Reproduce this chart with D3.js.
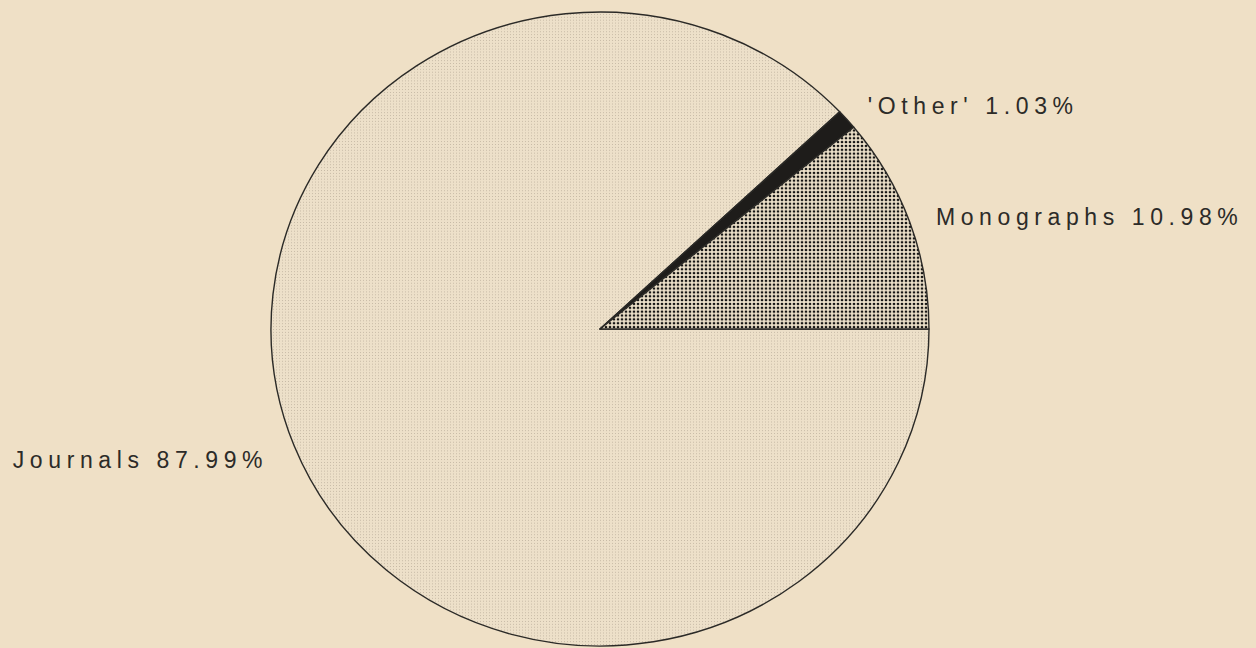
<!DOCTYPE html>
<html>
<head>
<meta charset="utf-8">
<script src="https://cdn.jsdelivr.net/npm/d3@7"></script>
<style>
  html, body { margin: 0; padding: 0; background: #efe0c6; }
  svg { display: block; }
</style>
</head>
<body>
<svg id="chart" width="1256" height="648"></svg>
<script>
// data
const categories = ['Journals', "'Other'", 'Monographs'];
const shares = [87.99, 1.03, 10.98];
const labels = ['Journals 87.99%', "'Other' 1.03%", 'Monographs 10.98%'];
const fills = ['url(#stipple)', '#1e1c1a', 'url(#dots)'];

const width = 1256, height = 648;
const cx = 600, cy = 329;
const radius = 329;
const squash = 317 / 329;   // the scanned pie is a bit flatter than round
const labelRadius = 357;

const svg = d3.select('#chart');

// fill patterns
const defs = svg.append('defs');
const stip = defs.append('pattern')
    .attr('id', 'stipple')
    .attr('width', 3).attr('height', 3)
    .attr('patternUnits', 'userSpaceOnUse');
stip.append('rect').attr('width', 3).attr('height', 3).attr('fill', '#ede0c9');
stip.append('rect').attr('x', 0).attr('y', 0).attr('width', 1).attr('height', 1)
    .attr('fill', '#a89b88').attr('opacity', 0.55);

const dots = defs.append('pattern')
    .attr('id', 'dots')
    .attr('width', 4).attr('height', 4)
    .attr('patternUnits', 'userSpaceOnUse');
dots.append('rect').attr('width', 4).attr('height', 4).attr('fill', '#ece0c9');
dots.append('circle').attr('cx', 2).attr('cy', 2).attr('r', 1.35)
    .attr('fill', '#161514');

const data = categories.map((c, i) => ({ name: c, value: shares[i], label: labels[i], fill: fills[i] }));

// starts at 3 o'clock, Journals runs round clockwise, Monographs closes back to 3 o'clock
const pie = d3.pie()
    .value(d => d.value)
    .sort(null)
    .startAngle(Math.PI / 2)
    .endAngle(Math.PI / 2 + 2 * Math.PI);

const arcs = pie(data);

const arc = d3.arc().innerRadius(0).outerRadius(radius);
const labelArc = d3.arc().innerRadius(labelRadius).outerRadius(labelRadius);

const g = svg.append('g')
    .attr('transform', 'translate(' + cx + ',' + cy + ') scale(1,' + squash + ')');

g.selectAll('path')
    .data(arcs)
    .enter()
    .append('path')
    .attr('d', arc)
    .attr('fill', d => d.data.fill)
    .attr('stroke', '#2b2a27')
    .attr('stroke-width', 1.4)
    .attr('stroke-linejoin', 'round')
    .attr('vector-effect', 'non-scaling-stroke');

// labels
svg.append('g')
    .selectAll('text')
    .data(arcs)
    .enter()
    .append('text')
    .attr('x', d => cx + labelArc.centroid(d)[0])
    .attr('y', d => cy + labelArc.centroid(d)[1] * squash)
    .attr('dy', '0.55em')
    .attr('text-anchor', d => ((d.startAngle + d.endAngle) / 2) % (2 * Math.PI) > Math.PI ? 'end' : 'start')
    .style('font-family', '"Liberation Sans", Arial, sans-serif')
    .style('font-size', '23px')
    .style('letter-spacing', '5.6px')
    .attr('fill', '#2c2b28')
    .text(d => d.data.label);
</script>
</body>
</html>
